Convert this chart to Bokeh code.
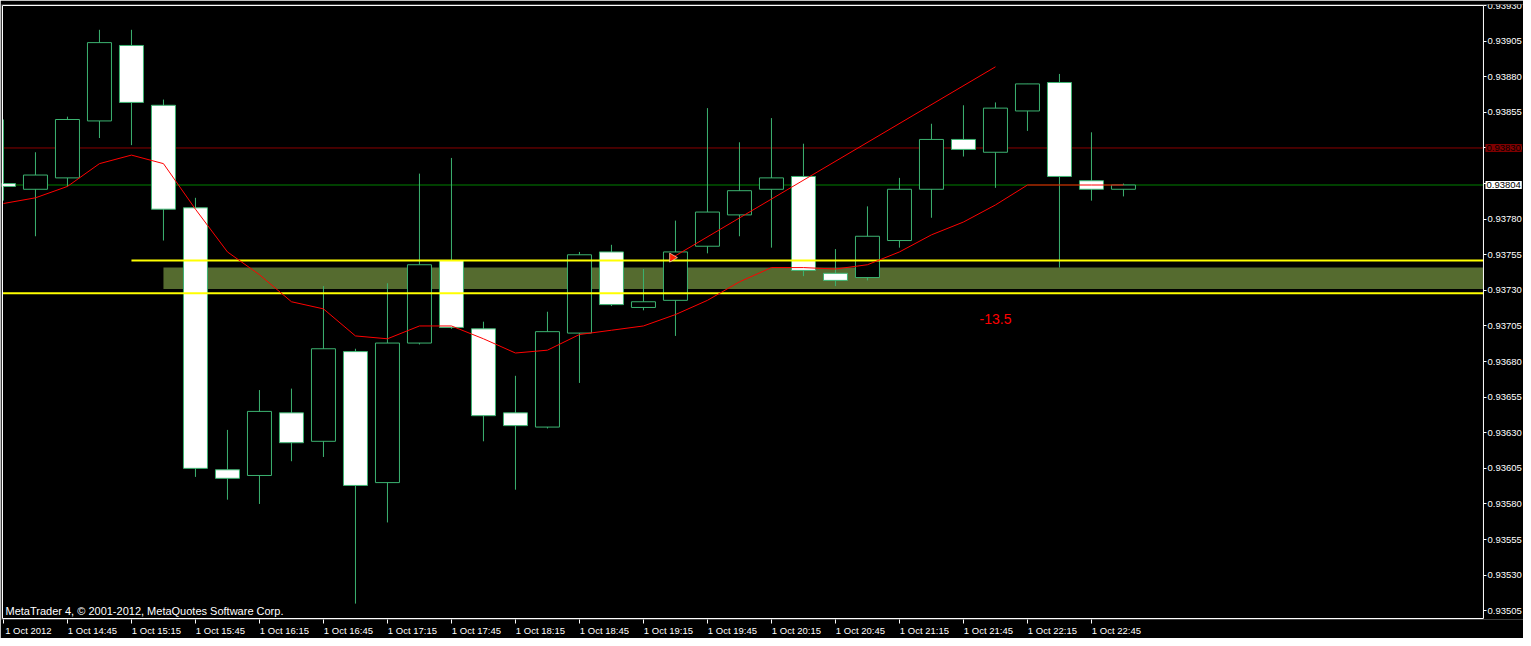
import math
from bokeh.plotting import figure
from bokeh.models import Range1d, FixedTicker, Label, ColumnDataSource
from bokeh.embed import file_html
from bokeh.resources import INLINE

# ---------------- data ----------------
bar_times = ["14:15", "14:30", "14:45", "15:00", "15:15", "15:30", "15:45", "16:00",
             "16:15", "16:30", "16:45", "17:00", "17:15", "17:30", "17:45", "18:00",
             "18:15", "18:30", "18:45", "19:00", "19:15", "19:30", "19:45", "20:00",
             "20:15", "20:30", "20:45", "21:00", "21:15", "21:30", "21:45", "22:00",
             "22:15", "22:30", "22:45", "23:00"]

opens = [0.93805, 0.93801, 0.93809, 0.93849, 0.93902, 0.93860, 0.93788, 0.93604,
         0.93600, 0.93644, 0.93624, 0.93687, 0.93595, 0.93693, 0.93751, 0.93703,
         0.93644, 0.93634, 0.93700, 0.93757, 0.93718, 0.93723, 0.93761, 0.93783,
         0.93801, 0.93810, 0.93742, 0.93739, 0.93765, 0.93801, 0.93836, 0.93827,
         0.93856, 0.93876, 0.93807, 0.93801]
highs = [0.93850, 0.93827, 0.93852, 0.93913, 0.93913, 0.93864, 0.93795, 0.93632,
         0.93660, 0.93661, 0.93733, 0.93689, 0.93735, 0.93812, 0.93823, 0.93708,
         0.93670, 0.93715, 0.93757, 0.93762, 0.93745, 0.93779, 0.93858, 0.93834,
         0.93851, 0.93833, 0.93759, 0.93789, 0.93809, 0.93847, 0.93860, 0.93862,
         0.93875, 0.93882, 0.93841, 0.93805]
lows = [0.93793, 0.93768, 0.93803, 0.93837, 0.93832, 0.93765, 0.93599, 0.93583,
        0.93580, 0.93610, 0.93613, 0.93510, 0.93567, 0.93692, 0.93703, 0.93624,
        0.93590, 0.93633, 0.93665, 0.93719, 0.93716, 0.93698, 0.93756, 0.93768,
        0.93760, 0.93740, 0.93733, 0.93737, 0.93760, 0.93781, 0.93824, 0.93802,
        0.93842, 0.93746, 0.93793, 0.93796]
closes = [0.93803, 0.93811, 0.93850, 0.93904, 0.93862, 0.93787, 0.93605, 0.93598,
          0.93645, 0.93623, 0.93689, 0.93593, 0.93693, 0.93748, 0.93704, 0.93642,
          0.93635, 0.93701, 0.93755, 0.93720, 0.93722, 0.93757, 0.93785, 0.93800,
          0.93809, 0.93744, 0.93737, 0.93768, 0.93801, 0.93836, 0.93829, 0.93858,
          0.93875, 0.93810, 0.93801, 0.93804]
ma_values = [0.93791, 0.93795, 0.93803, 0.93819, 0.93825, 0.93819, 0.93787, 0.93757,
             0.93741, 0.93722, 0.93717, 0.93698, 0.93696, 0.93705, 0.93705, 0.93696,
             0.93686, 0.93688, 0.93699, 0.93702, 0.93705, 0.93713, 0.93723, 0.93736,
             0.93746, 0.93746, 0.93745, 0.93748, 0.93757, 0.93769, 0.93778, 0.93790,
             0.93804, 0.93804, 0.93804, 0.93804]

x_tick_bars = [0, 2, 4, 6, 8, 10, 12, 14, 16, 18, 20, 22, 24, 26, 28, 30, 32, 34]
x_tick_labels = ["1 Oct 2012", "1 Oct 14:45", "1 Oct 15:15", "1 Oct 15:45", "1 Oct 16:15",
                 "1 Oct 16:45", "1 Oct 17:15", "1 Oct 17:45", "1 Oct 18:15", "1 Oct 18:45",
                 "1 Oct 19:15", "1 Oct 19:45", "1 Oct 20:15", "1 Oct 20:45", "1 Oct 21:15",
                 "1 Oct 21:45", "1 Oct 22:15", "1 Oct 22:45"]
y_tick_values = [0.93505, 0.93530, 0.93555, 0.93580, 0.93605, 0.93630, 0.93655, 0.93680,
                 0.93705, 0.93730, 0.93755, 0.93780, 0.93805, 0.93830, 0.93855, 0.93880,
                 0.93905, 0.93930]
y_tick_labels = ["0.93505", "0.93530", "0.93555", "0.93580", "0.93605", "0.93630", "0.93655",
                 "0.93680", "0.93705", "0.93730", "0.93755", "0.93780", "", "0.93830",
                 "0.93855", "0.93880", "0.93905", "0.93930"]

ask_level = 0.93830
ask_text = "0.93830"
bid_level = 0.93804
bid_text = "0.93804"
yellow_upper_level = 0.93751
yellow_upper_start = 4
yellow_lower_level = 0.93728
zone_bottom = 0.93731
zone_top = 0.93746
zone_start = 5
trend_x = [20.9, 31.0]
trend_y = [0.93753, 0.93887]
arrow_x = [20.9]
arrow_y = [0.93753]
note_x = 31.0
note_y = 0.93710
note_text = "-13.5"
copyright_text = "MetaTrader 4, \u00a9 2001-2012, MetaQuotes Software Corp."

# ---------------- layout / styles ----------------
GREEN = "#3CB371"
FONT = "Liberation Sans"
LABEL_SIZE = "9.5px"
label_shift = 0.78            # x-label centre offset so text starts at the tick
W, H = 1523, 638
BORDER_L, BORDER_T = 1, 4
px_per_bar = 32.0
box_left = -0.03              # chart box (white frame) in bar units / price
box_right = 46.25
box_bottom = 0.9349955
box_top = 0.9393007
frame_w = W - BORDER_L
x_start = box_left - 1.0 / px_per_bar
x_end = x_start + frame_w / px_per_bar
y_pad = 0.000007

idx = list(range(len(bar_times)))
body_top = [max(o, c) for o, c in zip(opens, closes)]
body_bot = [min(o, c) for o, c in zip(opens, closes)]
fills = ["black" if c >= o else "white" for o, c in zip(opens, closes)]
src = ColumnDataSource(dict(x=idx, o=opens, h=highs, l=lows, c=closes,
                            top=body_top, bot=body_bot, fill=fills, ma=ma_values))

x_range = Range1d(x_start, x_end)
y_range = Range1d(box_bottom - y_pad, box_top + y_pad)

p = figure(width=W, height=H, output_backend="svg", toolbar_location=None,
           x_range=x_range, y_range=y_range, y_axis_location="right",
           min_border_left=BORDER_L, min_border_top=BORDER_T,
           min_border_right=0, min_border_bottom=0)
p.background_fill_color = "black"
p.border_fill_color = "black"
p.outline_line_color = None
p.grid.visible = False

# x axis: tick marks at bars (minor), labels shifted to start at the tick
xa = p.xaxis[0]
label_pos = [b + label_shift for b in x_tick_bars]
xa.ticker = FixedTicker(ticks=label_pos, minor_ticks=x_tick_bars)
xa.major_label_overrides = {pos: lab for pos, lab in zip(label_pos, x_tick_labels)}
xa.major_tick_out = 0
xa.major_tick_in = 0
xa.minor_tick_out = 4
xa.minor_tick_in = 0
xa.minor_tick_line_color = "white"
xa.axis_line_color = None
xa.major_label_standoff = 1
xa.major_label_text_color = "white"
xa.major_label_text_font = FONT
xa.major_label_text_font_size = LABEL_SIZE

# y axis drawn at the right edge of the chart box
ya = p.yaxis[0]
ya.fixed_location = box_right
ya.ticker = FixedTicker(ticks=y_tick_values, minor_ticks=[])
ya.major_label_overrides = {v: lab for v, lab in zip(y_tick_values, y_tick_labels)}
ya.major_tick_out = 3
ya.major_tick_in = 0
ya.minor_tick_out = 0
ya.minor_tick_in = 0
ya.major_tick_line_color = "white"
ya.axis_line_color = None
ya.major_label_standoff = 1
ya.major_label_text_color = "white"
ya.major_label_text_font = FONT
ya.major_label_text_font_size = LABEL_SIZE

# zone rectangle
p.quad(left=[zone_start], right=[box_right], bottom=[zone_bottom], top=[zone_top],
       fill_color="#556B2F", line_color=None)

# ask / bid lines
p.line(x=[box_left, box_right], y=[ask_level, ask_level], line_color="#8B0000", line_width=1)
p.line(x=[box_left, box_right], y=[bid_level, bid_level], line_color="#008000", line_width=1)

# candles
p.segment(x0="x", y0="l", x1="x", y1="h", source=src, line_color=GREEN, line_width=1)
p.vbar(x="x", width=0.75, top="top", bottom="bot", source=src,
       fill_color="fill", line_color=GREEN, line_width=1)

# yellow levels
p.line(x=[yellow_upper_start, box_right], y=[yellow_upper_level, yellow_upper_level],
       line_color="yellow", line_width=2)
p.line(x=[box_left, box_right], y=[yellow_lower_level, yellow_lower_level],
       line_color="yellow", line_width=2)

# moving average and trend line
p.line(x="x", y="ma", source=src, line_color="#FF0000", line_width=1)
p.line(x=trend_x, y=trend_y, line_color="#FF0000", line_width=1)
p.scatter(x=arrow_x, y=arrow_y, marker="triangle", angle=-math.pi / 2, size=9,
          fill_color="#FF2000", line_color="#FFE0C0", line_width=0.7)

# white chart frame
p.quad(left=[box_left], right=[box_right], bottom=[box_bottom], top=[box_top],
       fill_color=None, line_color="white", line_width=1)

# price tags on the right axis
p.add_layout(Label(x=box_right, y=ask_level, x_offset=2, text=ask_text,
                   text_baseline="middle", text_align="left", text_color="black",
                   text_font=FONT, text_font_size=LABEL_SIZE,
                   background_fill_color="#800000", padding=1))
p.add_layout(Label(x=box_right, y=bid_level, x_offset=2, text=bid_text,
                   text_baseline="middle", text_align="left", text_color="black",
                   text_font=FONT, text_font_size=LABEL_SIZE,
                   background_fill_color="white", padding=1))

# texts
p.add_layout(Label(x=note_x, y=note_y, text=note_text, text_color="#FF0000",
                   text_font=FONT, text_font_size="14px",
                   text_align="center", text_baseline="middle"))
p.add_layout(Label(x=4, y=3, x_units="screen", y_units="screen", text=copyright_text,
                   text_color="white", text_font=FONT, text_font_size="11px",
                   text_align="left", text_baseline="bottom"))

open("out.html", "w").write(file_html(p, INLINE))
